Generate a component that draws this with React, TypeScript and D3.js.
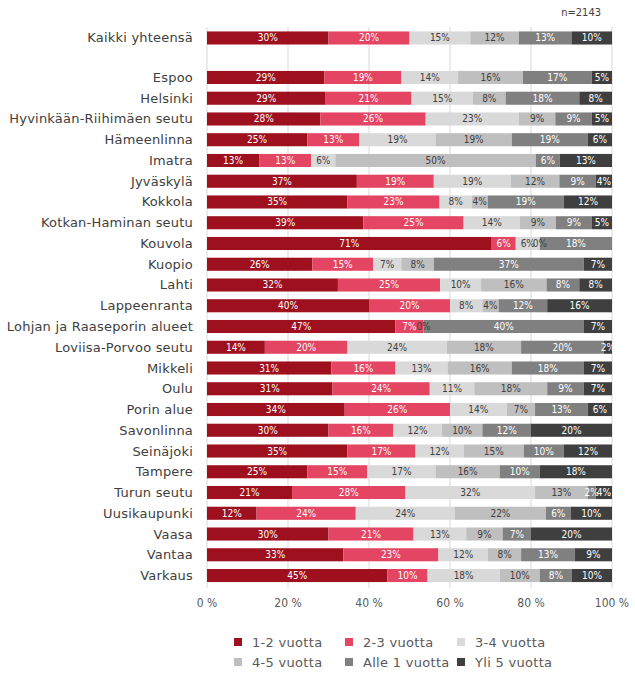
import React from "react";
import * as d3 from "d3";

const categories = [
  "Kaikki yhteensä",
  "Espoo", "Helsinki", "Hyvinkään-Riihimäen seutu", "Hämeenlinna", "Imatra", "Jyväskylä",
  "Kokkola", "Kotkan-Haminan seutu", "Kouvola", "Kuopio", "Lahti", "Lappeenranta",
  "Lohjan ja Raaseporin alueet", "Loviisa-Porvoo seutu", "Mikkeli", "Oulu", "Porin alue",
  "Savonlinna", "Seinäjoki", "Tampere", "Turun seutu", "Uusikaupunki", "Vaasa", "Vantaa", "Varkaus",
];

const seriesNames = ["1-2 vuotta", "2-3 vuotta", "3-4 vuotta", "4-5 vuotta", "Alle 1 vuotta", "Yli 5 vuotta"];
const seriesColors = ["#9E101E", "#E34562", "#D9D9D9", "#BFBFBF", "#808080", "#3F3F3F"];
const labelColors = ["#FFFFFF", "#FFFFFF", "#404040", "#404040", "#FFFFFF", "#FFFFFF"];

const v12 = [30, 29, 29, 28, 25, 13, 37, 35, 39, 71, 26, 32, 40, 47, 14, 31, 31, 34, 30, 35, 25, 21, 12, 30, 33, 45];
const v23 = [20, 19, 21, 26, 13, 13, 19, 23, 25, 6, 15, 25, 20, 7, 20, 16, 24, 26, 16, 17, 15, 28, 24, 21, 23, 10];
const v34 = [15, 14, 15, 23, 19, 6, 19, 8, 14, 6, 7, 10, 8, 0, 24, 13, 11, 14, 12, 12, 17, 32, 24, 13, 12, 18];
const v45 = [12, 16, 8, 9, 19, 50, 12, 4, 9, 0, 8, 16, 4, null, 18, 16, 18, 7, 10, 15, 16, 13, 22, 9, 8, 10];
const vAlle1 = [13, 17, 18, 9, 19, 6, 9, 19, 9, 18, 37, 8, 12, 40, 20, 18, 9, 13, 12, 10, 10, 2, 6, 7, 13, 8];
const vYli5 = [10, 5, 8, 5, 6, 13, 4, 12, 5, null, 7, 8, 16, 7, 2, 7, 7, 6, 20, 12, 18, 4, 10, 20, 9, 10];

const xTicks = [0, 0.2, 0.4, 0.6, 0.8, 1];
const sampleNote = "n=2143";

export default function App() {
  const width = 635;
  const height = 673;
  const x = d3.scaleLinear().domain([0, 1]).range([207, 612]);
  const cities = categories.slice(1);
  const yCity = d3.scaleBand<string>().domain(cities).range([67.1, 585.9]).paddingInner(0.37).paddingOuter(0.185);
  const bw = yCity.bandwidth();
  const yPos = (c: string) => (c === categories[0] ? (yCity(cities[0]) as number) - 39.5 : (yCity(c) as number));

  const allSeries = [v12, v23, v34, v45, vAlle1, vYli5];
  const rows = categories.map((c, i) => {
    const o: any = { cat: c };
    seriesNames.forEach((s, j) => (o[s] = allSeries[j][i] ?? 0));
    return o;
  });
  const stack = d3.stack<any>().keys(seriesNames).offset(d3.stackOffsetExpand);
  const stacked = stack(rows);

  const fontC = "'DejaVu Sans Condensed', 'DejaVu Sans', sans-serif";
  const font = "'DejaVu Sans', sans-serif";

  return (
    <svg width={width} height={height} style={{ position: "absolute", left: 0, top: 0 }}>
      <rect width={width} height={height} fill="#fff" />
      {xTicks.map((t) => (
        <line key={t} x1={x(t)} x2={x(t)} y1={27} y2={588} stroke="#D9D9D9" strokeWidth={1} />
      ))}
      {xTicks.map((t) => (
        <text key={"t" + t} x={x(t)} y={607} textAnchor="middle" fontSize={12} fill="#595959" fontFamily={fontC}>
          {Math.round(t * 100) + " %"}
        </text>
      ))}
      <text x={601} y={16} textAnchor="end" fontSize={11} fill="#404040" fontFamily={fontC}>{sampleNote}</text>
      {stacked.map((layer, j) => (
        <g key={layer.key}>
          {layer.map((d, i) => {
            const yy = yPos(categories[i]);
            const w = x(d[1]) - x(d[0]);
            return <rect key={i} x={x(d[0])} y={yy} width={Math.max(0, w)} height={bw} fill={seriesColors[j]} />;
          })}
        </g>
      ))}
      {stacked.map((layer, j) => (
        <g key={"l" + layer.key}>
          {layer.map((d, i) => {
            const raw = allSeries[j][i];
            if (raw === null || raw === undefined) return null;
            const yy = yPos(categories[i]);
            return (
              <text key={i} x={(x(d[0]) + x(d[1])) / 2} y={yy + bw / 2 + 3.5} textAnchor="middle" fontSize={10}
                fill={labelColors[j]} fontFamily={fontC}>
                {raw + "%"}
              </text>
            );
          })}
        </g>
      ))}
      {categories.map((c) => (
        <text key={c} x={193} y={yPos(c) + bw / 2 + 4.5} textAnchor="end" fontSize={13} letterSpacing={0.2}
          fill="#404040" fontFamily={font}>
          {c}
        </text>
      ))}
      {seriesNames.map((s, j) => {
        const col = j % 3;
        const row = Math.floor(j / 3);
        const lx = [238, 349, 461][col];
        const ly = 642 + row * 20;
        return (
          <g key={s}>
            <rect x={lx - 4} y={ly - 4} width={8} height={8} fill={seriesColors[j]} />
            <text x={lx + 14} y={ly + 4.5} fontSize={13} letterSpacing={0.3} fill="#595959" fontFamily={font}>{s}</text>
          </g>
        );
      })}
    </svg>
  );
}
